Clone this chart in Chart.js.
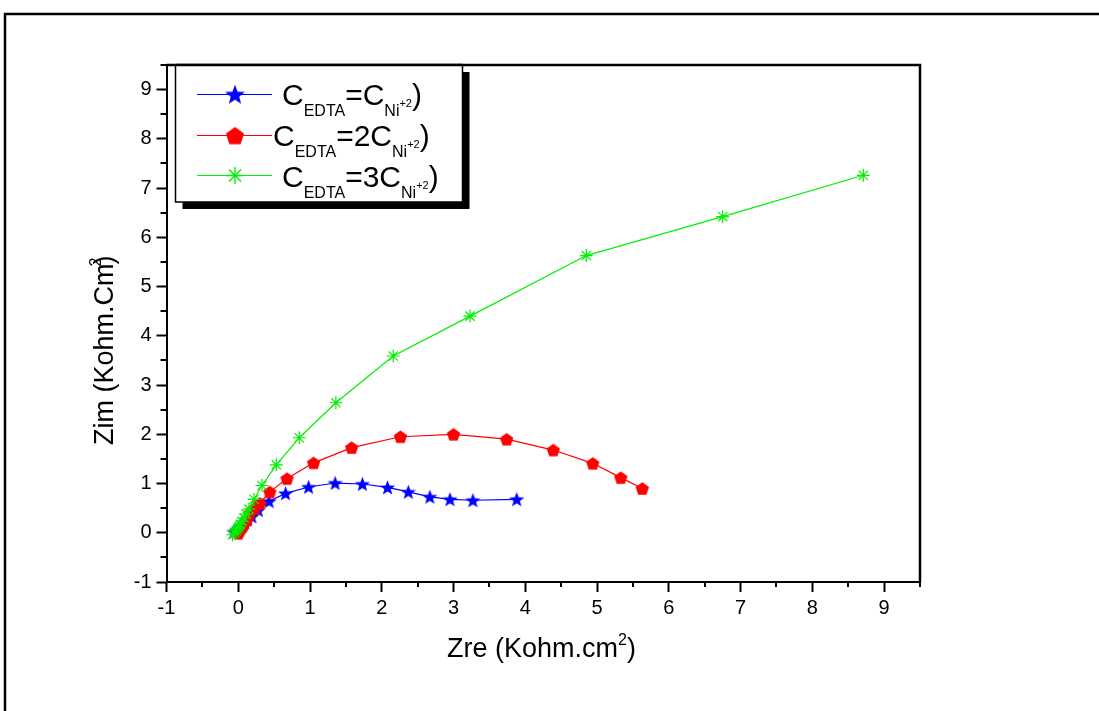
<!DOCTYPE html>
<html>
<head>
<meta charset="utf-8">
<script src="https://cdn.jsdelivr.net/npm/chart.js@4.4.1/dist/chart.umd.min.js"></script>
<style>
  html, body { margin: 0; padding: 0; background: #fff; }
  canvas { display: block; }
</style>
</head>
<body>
<canvas id="nyquist" width="1099" height="711"></canvas>
<script>
// Nyquist plots of the Ni(II)/EDTA baths (kOhm.cm2)
const xTickValues = [-1, 0, 1, 2, 3, 4, 5, 6, 7, 8, 9];
const yTickValues = [-1, 0, 1, 2, 3, 4, 5, 6, 7, 8, 9];

const blueZre = [-0.06, -0.02, 0.02, 0.05, 0.09, 0.13, 0.19, 0.28, 0.43, 0.66, 0.98, 1.35, 1.73, 2.08, 2.37, 2.67, 2.95, 3.27, 3.88];
const blueZim = [0.02, 0.06, 0.10, 0.15, 0.21, 0.27, 0.33, 0.46, 0.64, 0.80, 0.93, 1.01, 0.99, 0.92, 0.83, 0.73, 0.68, 0.66, 0.68];

const redZre = [0.00, 0.02, 0.05, 0.07, 0.12, 0.16, 0.23, 0.30, 0.44, 0.68, 1.05, 1.58, 2.26, 3.00, 3.74, 4.39, 4.94, 5.33, 5.63];
const redZim = [-0.01, 0.05, 0.11, 0.16, 0.26, 0.39, 0.50, 0.60, 0.83, 1.10, 1.42, 1.73, 1.95, 2.00, 1.90, 1.68, 1.41, 1.12, 0.90];

const greenZre = [-0.08, -0.05, -0.03, -0.01, 0.01, 0.03, 0.05, 0.08, 0.11, 0.15, 0.22, 0.33, 0.53, 0.85, 1.36, 2.16, 3.23, 4.85, 6.75, 8.71];
const greenZim = [-0.04, 0.00, 0.04, 0.08, 0.12, 0.17, 0.23, 0.30, 0.38, 0.48, 0.68, 0.96, 1.38, 1.93, 2.64, 3.59, 4.40, 5.63, 6.42, 7.26];

// legend text pieces: [text, role]
const legendBlue  = [['C', 'big'], ['EDTA', 'sub'], ['=C', 'big'], ['Ni', 'sub'], ['+2', 'sup'], [')', 'big']];
const legendRed   = [['C', 'big'], ['EDTA', 'sub'], ['=2C', 'big'], ['Ni', 'sub'], ['+2', 'sup'], [')', 'big']];
const legendGreen = [['C', 'big'], ['EDTA', 'sub'], ['=3C', 'big'], ['Ni', 'sub'], ['+2', 'sup'], [')', 'big']];

const FONT = "'Liberation Sans', Arial, sans-serif";
const BLUE = '#0000ff', RED = '#ff0000', GREEN = '#00f000';

function pts(xs, ys) { return xs.map((x, i) => ({ x: x, y: ys[i] })); }

// filled polygon markers (5-point star, pentagon)
function makeStar(size, color) {
  const c = document.createElement('canvas');
  c.width = c.height = size;
  const g = c.getContext('2d');
  const R = size / 2 - 0.5, r = R * 0.42, cx = size / 2, cy = size / 2 + R * 0.08;
  g.beginPath();
  for (let i = 0; i < 10; i++) {
    const a = -Math.PI / 2 + i * Math.PI / 5;
    const rr = i % 2 ? r : R;
    g.lineTo(cx + rr * Math.cos(a), cy + rr * Math.sin(a));
  }
  g.closePath();
  g.fillStyle = color;
  g.fill();
  return c;
}
function makePentagon(size, color) {
  const c = document.createElement('canvas');
  c.width = c.height = size;
  const g = c.getContext('2d');
  const R = size / 2 - 0.5, cx = size / 2, cy = size / 2 + R * 0.1;
  g.beginPath();
  for (let i = 0; i < 5; i++) {
    const a = -Math.PI / 2 + i * 2 * Math.PI / 5;
    g.lineTo(cx + R * Math.cos(a), cy + R * Math.sin(a));
  }
  g.closePath();
  g.fillStyle = color;
  g.fill();
  return c;
}

const starMark = makeStar(17, BLUE);
const pentaMark = makePentagon(15, RED);
const starLegend = makeStar(22, BLUE);
const pentaLegend = makePentagon(20, RED);

function drawRich(ctx, x, y, parts, sizes) {
  for (const [t, role] of parts) {
    const s = sizes[role];
    ctx.font = s.size + 'px ' + FONT;
    ctx.fillText(t, x, y + s.dy);
    x += ctx.measureText(t).width;
  }
}

const decorPlugin = {
  id: 'decor',
  beforeDraw(chart) {
    const ctx = chart.ctx;
    ctx.save();
    ctx.fillStyle = '#fff';
    ctx.fillRect(0, 0, chart.width, chart.height);
    // page frame
    ctx.strokeStyle = '#000';
    ctx.lineWidth = 2.5;
    ctx.beginPath();
    ctx.moveTo(1099, 14);
    ctx.lineTo(5, 14);
    ctx.lineTo(5, 711);
    ctx.stroke();
    ctx.restore();
  },
  afterDraw(chart) {
    const ctx = chart.ctx;
    const a = chart.chartArea;
    const xs = chart.scales.x, ys = chart.scales.y;
    ctx.save();
    // top and right edges of the plot frame
    ctx.strokeStyle = '#000';
    ctx.lineWidth = 2.5;
    ctx.beginPath();
    ctx.moveTo(a.left, a.top);
    ctx.lineTo(a.right, a.top);
    ctx.lineTo(a.right, a.bottom);
    ctx.stroke();
    // minor ticks
    ctx.lineWidth = 2;
    ctx.beginPath();
    for (const v of xTickValues) {
      const px = Math.round(xs.getPixelForValue(v + 0.5));
      ctx.moveTo(px, a.bottom);
      ctx.lineTo(px, a.bottom + 5);
    }
    for (const v of yTickValues) {
      const py = Math.round(ys.getPixelForValue(v + 0.5));
      ctx.moveTo(a.left, py);
      ctx.lineTo(a.left - 6, py);
    }
    ctx.stroke();

    // axis titles
    ctx.fillStyle = '#000';
    ctx.textBaseline = 'alphabetic';
    ctx.textAlign = 'left';
    drawRich(ctx, 447, 657, [['Zre (Kohm.cm', 'big'], ['2', 'sup'], [')', 'big']],
      { big: { size: 27, dy: 0 }, sup: { size: 16, dy: -12 } });

    ctx.save();
    ctx.translate(113, 445);
    ctx.rotate(-Math.PI / 2);
    ctx.font = '27px ' + FONT;
    const base = 'Zim (Kohm.Cm';
    ctx.fillText(base, 0, 0);
    const w = ctx.measureText(base).width;
    ctx.fillText(')', w - 1, 0);
    ctx.font = '16px ' + FONT;
    ctx.fillText('2', w - 3, -12);
    ctx.restore();

    // legend box with drop shadow
    const bx = 175.5, by = 65, bw = 287, bh = 137;
    ctx.fillStyle = '#000';
    ctx.fillRect(bx + 7, by + 7, bw, bh);
    ctx.fillStyle = '#fff';
    ctx.fillRect(bx, by, bw, bh);
    ctx.strokeStyle = '#000';
    ctx.lineWidth = 1.5;
    ctx.strokeRect(bx, by, bw, bh);
    ctx.lineWidth = 2.5;
    ctx.beginPath();
    ctx.moveTo(bx, by);
    ctx.lineTo(bx + bw, by);
    ctx.stroke();

    const rows = [
      { color: BLUE, ly: 94.5, tx: 282, ty: 105, parts: legendBlue, mark: 'star' },
      { color: RED, ly: 135.5, tx: 273, ty: 146, parts: legendRed, mark: 'penta' },
      { color: GREEN, ly: 175.5, tx: 282, ty: 186.5, parts: legendGreen, mark: 'ast' }
    ];
    const sizes = { big: { size: 30, dy: 0 }, sub: { size: 16, dy: 11 }, sup: { size: 11, dy: 2 } };
    for (const r of rows) {
      ctx.strokeStyle = r.color;
      ctx.lineWidth = 1.2;
      ctx.beginPath();
      ctx.moveTo(197, r.ly);
      ctx.lineTo(272, r.ly);
      ctx.stroke();
      const mx = 235;
      if (r.mark === 'star') {
        ctx.drawImage(starLegend, mx - 11, r.ly - 11);
      } else if (r.mark === 'penta') {
        ctx.drawImage(pentaLegend, mx - 10, r.ly - 10);
      } else {
        ctx.strokeStyle = r.color;
        ctx.lineWidth = 1.3;
        Chart.helpers.drawPoint(ctx, { pointStyle: 'star', radius: 8.5, borderWidth: 1.3, rotation: 0 }, mx, r.ly);
      }
      ctx.fillStyle = '#000';
      drawRich(ctx, r.tx, r.ty, r.parts, sizes);
    }
    ctx.restore();
  }
};

function axisCommon(ticksArr) {
  return {
    type: 'linear',
    afterBuildTicks: (s) => { s.ticks = ticksArr.map(v => ({ value: v })); },
    grid: { drawOnChartArea: false, drawTicks: true, tickLength: 10, tickWidth: 2, tickColor: '#000' },
    border: { display: true, color: '#000', width: 2 },
    ticks: {
      font: { family: FONT, size: 20 }, color: '#000',
      autoSkip: false, maxRotation: 0,
      callback: (v) => String(v)
    }
  };
}

const xAxis = axisCommon(xTickValues);
xAxis.min = -1; xAxis.max = 9.5;
xAxis.ticks.padding = 4;
xAxis.afterFit = (s) => { s.height = 60; };

const yAxis = axisCommon(yTickValues);
yAxis.min = -1; yAxis.max = 9.5;
yAxis.ticks.padding = 5;
yAxis.afterFit = (s) => { s.width = 162.5; };

new Chart(document.getElementById('nyquist'), {
  type: 'scatter',
  data: {
    datasets: [
      {
        label: 'CEDTA=CNi+2)', data: pts(blueZre, blueZim), order: 3,
        showLine: true, borderColor: BLUE, borderWidth: 1.2,
        pointStyle: starMark, pointRadius: 7, pointBackgroundColor: BLUE, pointBorderColor: BLUE
      },
      {
        label: 'CEDTA=2CNi+2)', data: pts(redZre, redZim), order: 2,
        showLine: true, borderColor: RED, borderWidth: 1.2,
        pointStyle: pentaMark, pointRadius: 7, pointBackgroundColor: RED, pointBorderColor: RED
      },
      {
        label: 'CEDTA=3CNi+2)', data: pts(greenZre, greenZim), order: 1,
        showLine: true, borderColor: GREEN, borderWidth: 1.2,
        pointStyle: 'star', pointRadius: 6.5, pointBorderWidth: 1.2, pointBorderColor: GREEN, pointBackgroundColor: GREEN
      }
    ]
  },
  options: {
    responsive: false,
    animation: false,
    layout: { padding: { left: 4, top: 65, right: 179, bottom: 69 } },
    plugins: { legend: { display: false }, tooltip: { enabled: false } },
    scales: { x: xAxis, y: yAxis }
  },
  plugins: [decorPlugin]
});
</script>
</body>
</html>
